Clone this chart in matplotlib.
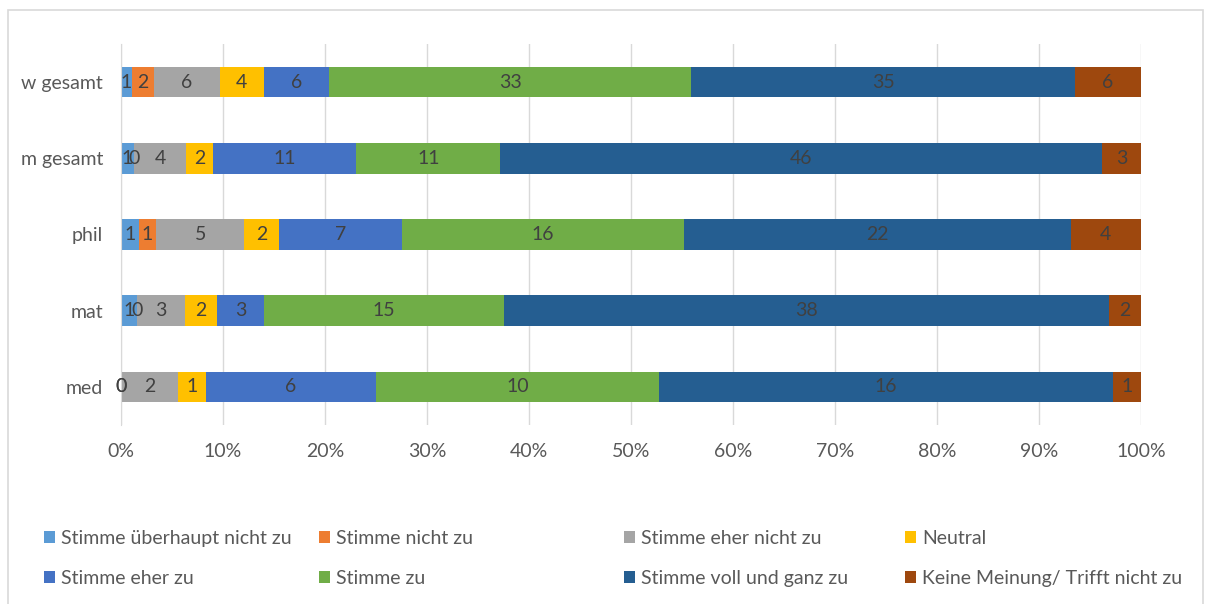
import numpy as np
import matplotlib
matplotlib.use('Agg')
import matplotlib.pyplot as plt
from matplotlib.patches import Rectangle
from matplotlib.ticker import PercentFormatter

plt.rcParams['font.family'] = ['Lato', 'DejaVu Sans']

# Daten (Anzahl Antworten je Gruppe)
gruppen = ['med', 'mat', 'phil', 'm gesamt', 'w gesamt']
antworten = ['Stimme überhaupt nicht zu', 'Stimme nicht zu', 'Stimme eher nicht zu',
             'Neutral', 'Stimme eher zu', 'Stimme zu', 'Stimme voll und ganz zu',
             'Keine Meinung/ Trifft nicht zu']
ueberhaupt_nicht = [0, 1, 1, 1, 1]
nicht_zu = [0, 0, 1, 0, 2]
eher_nicht = [2, 3, 5, 4, 6]
neutral = [1, 2, 2, 2, 4]
eher_zu = [6, 3, 7, 11, 6]
zu = [10, 15, 16, 11, 33]
voll_zu = [16, 38, 22, 46, 35]
keine_meinung = [1, 2, 4, 3, 6]

farben = ['#5B9BD5', '#ED7D31', '#A5A5A5', '#FFC000',
          '#4472C4', '#70AD47', '#255E91', '#9E480E']

werte = np.array([ueberhaupt_nicht, nicht_zu, eher_nicht, neutral,
                  eher_zu, zu, voll_zu, keine_meinung], dtype=float)
summe = werte.sum(axis=0)
anteile = werte / summe * 100

fs = 14

fig = plt.figure(figsize=(12.05, 6.04), dpi=100)
ax = fig.add_axes([121 / 1205, 1 - 425 / 604, 1020 / 1205, 381 / 604])

y = np.arange(len(gruppen))
links = np.zeros(len(gruppen))
balken = []
for i, name in enumerate(antworten):
    b = ax.barh(y, anteile[i], left=links, height=0.4, color=farben[i],
                label=name, zorder=3)
    texte = ax.bar_label(b, labels=[f'{int(v)}' for v in werte[i]], label_type='center',
                         color='#404040', fontsize=fs)
    for t in texte:
        t.set_zorder(6)
        t.set_clip_on(False)
    links += anteile[i]
    balken.append(b)

ax.set_xlim(0, 100)
ax.set_ylim(-0.5, 4.5)
ax.set_xticks(np.arange(0, 101, 10))
ax.xaxis.set_major_formatter(PercentFormatter(decimals=0))
ax.set_yticks(y)
ax.set_yticklabels(gruppen)
ax.tick_params(length=0, labelsize=fs, labelcolor='#595959')
ax.tick_params(axis='x', pad=13)
ax.tick_params(axis='y', pad=13)
ax.grid(axis='x', color='#D9D9D9', linewidth=1, zorder=0)
for s in ['top', 'right', 'bottom']:
    ax.spines[s].set_visible(False)
ax.spines['left'].set_color('#D9D9D9')
ax.spines['left'].set_zorder(4)

# Legende: 4 Spalten, je 2 Einträge
spalten_x = [36, 311, 616, 897]
for k, xpos in enumerate(spalten_x):
    fig.legend([balken[k], balken[k + 4]], [antworten[k], antworten[k + 4]],
               loc='upper left', bbox_to_anchor=(xpos / 1205, 1 - 522 / 604),
               frameon=False, fontsize=fs, labelcolor='#595959',
               handlelength=0.6, handleheight=0.6, handletextpad=0.3,
               labelspacing=1.2, borderaxespad=0)

fig.patches.append(Rectangle((8 / 1205, -0.01), 1195 / 1205, 1 - 10 / 604 + 0.01,
                             transform=fig.transFigure, fill=False,
                             edgecolor='#D9D9D9', linewidth=1.2))

fig.savefig('out.png', dpi=100)
